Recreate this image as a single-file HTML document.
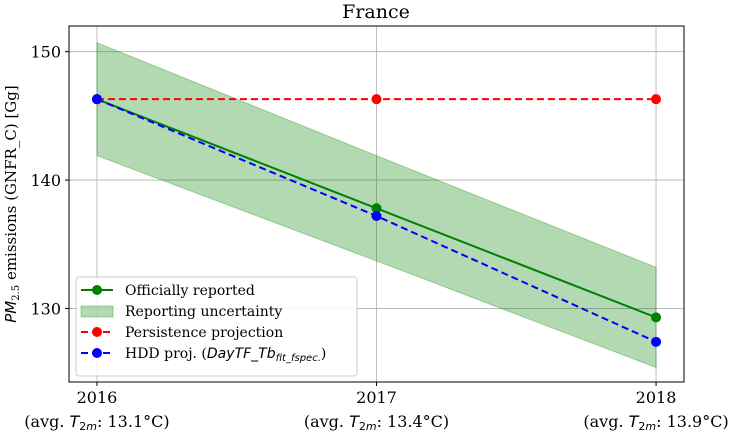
<!DOCTYPE html>
<html><head><meta charset="utf-8"><style>
body{margin:0;background:#fff;width:736px;height:440px;overflow:hidden}
svg text{font-family:"DejaVu Serif","Liberation Serif",serif;fill:#000}
</style></head><body>
<svg id="c" width="736" height="440"></svg>
<script>
const years=[2016,2017,2018];
const tickLabels=["2016","2017","2018"];
const temps=["13.1","13.4","13.9"];
const official=[146.3,137.8,129.3];
const upper=[150.7,141.9,133.2];
const lower=[141.9,133.7,125.4];
const persistence=[146.3,146.3,146.3];
const hdd=[146.3,137.2,127.4];
const yTicks=[130,140,150];
const L=69,R=684,T=26,B=382,x0=2015.9,x1=2018.1,y0=124.27,y1=152.0;
const X=v=>L+(v-x0)/(x1-x0)*(R-L);
const Y=v=>B-(v-y0)/(y1-y0)*(B-T);
const svg=document.getElementById('c');const NS='http://www.w3.org/2000/svg';
function el(t,a,p){const e=document.createElementNS(NS,t);for(const k in a)e.setAttribute(k,a[k]);(p||svg).appendChild(e);return e;}
let e;
years.forEach((y,i)=>{e=el('line',{x1:X(y),x2:X(y),y1:T,y2:B,stroke:'#b0b0b0','stroke-width':0.8});

});
yTicks.forEach(v=>{e=el('line',{x1:L,x2:R,y1:Y(v),y2:Y(v),stroke:'#b0b0b0','stroke-width':0.8});

});
let pts=years.map((y,i)=>X(y)+','+Y(upper[i])).concat(years.map((y,i)=>X(y)+','+Y(lower[i])).reverse()).join(' ');
e=el('polygon',{points:pts,fill:'rgba(0,128,0,0.3)',stroke:'rgba(0,128,0,0.3)'});


function series(vals,color,dash,name){
  e=el('polyline',{points:years.map((y,i)=>X(y)+','+Y(vals[i])).join(' '),fill:'none',stroke:color,'stroke-width':2,'stroke-dasharray':dash||'none'});
  
  
  years.forEach((y,i)=>{e=el('circle',{cx:X(y),cy:Y(vals[i]),r:5,fill:color});
  
  });
}
series(official,'green',null,'official');
series(persistence,'red','7,4','persistence');
series(hdd,'blue','7,4','hdd');
e=el('rect',{x:L,y:T,width:R-L,height:B-T,fill:'none',stroke:'#000','stroke-width':1});


years.forEach((y,i)=>{
  el('line',{x1:X(y),x2:X(y),y1:B,y2:B+4,stroke:'#000'});
  e=el('text',{x:X(y),y:B+21,'text-anchor':'middle','font-size':16});e.textContent=tickLabels[i];
  
  
  e=el('text',{x:X(y),y:B+45,'text-anchor':'middle','font-size':16});
  e.innerHTML='(avg. <tspan font-style="italic" font-family="DejaVu Sans">T</tspan><tspan font-size="11" dy="3" font-family="DejaVu Sans">2<tspan font-style="italic">m</tspan></tspan><tspan dy="-3">: '+temps[i]+'°C)</tspan>';
  
  
});
yTicks.forEach(v=>{
  el('line',{x1:L-4,x2:L,y1:Y(v),y2:Y(v),stroke:'#000'});
  e=el('text',{x:L-8,y:Y(v)+6,'text-anchor':'end','font-size':16});e.textContent=v;
  
  
});
e=el('text',{x:376,y:18,'text-anchor':'middle','font-size':19});e.textContent='France';


e=el('text',{transform:'translate(16,204) rotate(-90)','text-anchor':'middle','font-size':15});
e.innerHTML='<tspan font-style="italic" font-family="DejaVu Sans">PM</tspan><tspan font-size="10" dy="3">2.5</tspan><tspan dy="-3"> emissions (GNFR_C) [Gg]</tspan>';


const g=el('g',{});


el('rect',{x:76,y:277,width:281,height:99,rx:3,fill:'#fff','fill-opacity':0.85,stroke:'#ccc'},g);
const items=[['Officially reported','green',null,'line'],['Reporting uncertainty','green',null,'patch'],['Persistence projection','red','7,4','line'],['HDD','blue','7,4','line']];
items.forEach((it,i)=>{
  const cy=290+i*21;
  if(it[3]==='patch'){el('rect',{x:81,y:cy-5,width:32,height:11,fill:'rgba(0,128,0,0.3)',stroke:'rgba(0,128,0,0.3)'},g);}
  else{el('line',{x1:81,x2:113,y1:cy,y2:cy,stroke:it[1],'stroke-width':2,'stroke-dasharray':it[2]||'none'},g);el('circle',{cx:97,cy:cy,r:5,fill:it[1]},g);}
  e=el('text',{x:125,y:cy+5,'font-size':14},g);
  if(i===3)e.innerHTML='HDD proj. (<tspan font-style="italic" font-family="DejaVu Sans">DayTF_Tb</tspan><tspan font-size="10" dy="3" font-style="italic" font-family="DejaVu Sans">fit_fspec.</tspan><tspan dy="-3">)</tspan>';
  else e.textContent=it[0];
  
  
});
</script>
</body></html>
